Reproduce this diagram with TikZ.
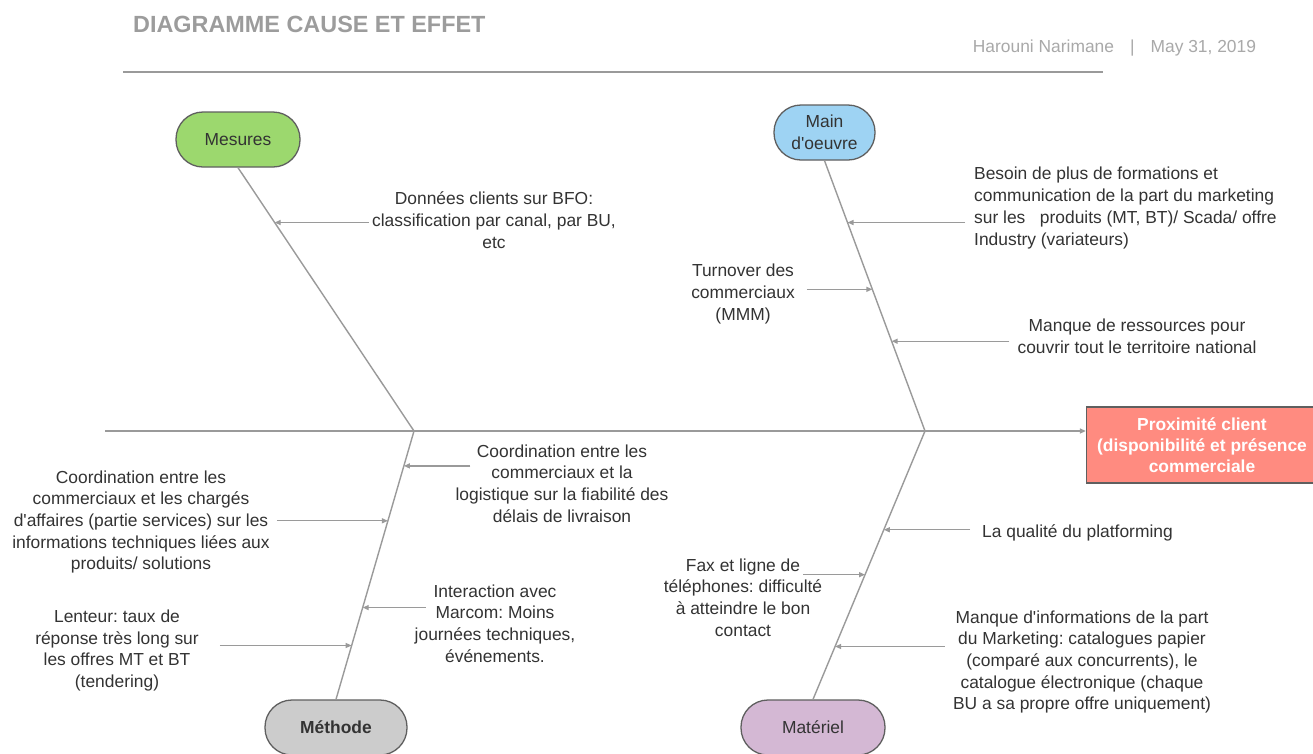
\documentclass[tikz,border=0pt]{standalone}
\usepackage{fontspec}
\setmainfont{Liberation Sans}[Ligatures=TeXOff]
\usetikzlibrary{arrows.meta,calc}
\frenchspacing

\definecolor{linegray}{HTML}{9A9A9A}
\definecolor{titlegray}{HTML}{9C9C9C}
\definecolor{metagray}{HTML}{A9A9A9}
\definecolor{textdark}{HTML}{333333}
\definecolor{pilledge}{HTML}{5F5F5F}
\definecolor{mesfill}{HTML}{9CD86E}
\definecolor{mdofill}{HTML}{9ED3F3}
\definecolor{methfill}{HTML}{CCCCCC}
\definecolor{matfill}{HTML}{D4B8D4}
\definecolor{effectfill}{HTML}{FF8B80}

\begin{document}
\begin{tikzpicture}[x=1pt,y=-1pt,
  bodyfont/.style={font=\fontsize{17.4}{21.7}\selectfont},
  txt/.style={bodyfont, text=textdark, align=center, inner sep=0pt},
  pill/.style={bodyfont, text=textdark, draw=pilledge, line width=1.3pt,
    rounded corners=27pt, minimum height=55pt, inner sep=0pt, align=center},
  bone/.style={draw=linegray, line width=1.4pt},
  cause/.style={draw=linegray, line width=1.3pt,
    -{Triangle[length=6pt,width=5pt]}}]

\clip (0,0) rectangle (1313,753);
\fill[white] (0,0) rectangle (1313,753);

% header
\node[anchor=base west, inner sep=0pt, text=titlegray,
  font=\fontsize{23.4}{28}\selectfont\bfseries] (title) at (133,32.7)
  {DIAGRAMME CAUSE ET EFFET};
\node[anchor=base west, inner sep=0pt, text=metagray, bodyfont] (meta) at (972.7,52.7)
  {Harouni Narimane\hspace{16pt}|\hspace{16pt}May 31, 2019};
\draw[draw=linegray, line width=1.5pt] (123,72) -- (1103,72);

% category heads
\node[pill, fill=mesfill, minimum width=124pt] (mes) at (238,139.5) {Mesures};
\node[pill, fill=mdofill, minimum width=101pt] (mdo) at (824.5,132.5) {Main\\d'oeuvre};
\node[pill, fill=methfill, minimum width=142pt, font=\fontsize{17.4}{21.7}\selectfont\bfseries] (meth) at (336,727.5) {Méthode};
\node[pill, fill=matfill, minimum width=144pt] (mat) at (813,727.5) {Matériel};

% effect
\node[draw=pilledge, line width=1.3pt, fill=effectfill, text=white,
  minimum width=231pt, minimum height=76pt, inner sep=0pt, align=center,
  font=\fontsize{17.4}{21}\selectfont\bfseries] (effect) at (1202,445)
  {Proximité client\\(disponibilité et présence\\commerciale};

% spine and bones
\coordinate (tail) at (105,431);
\coordinate (j1) at (414,431);
\coordinate (j2) at (925,431);
\draw[bone, -{Triangle[length=6pt,width=5pt]}] (tail) -- (tail -| effect.west);
\draw[bone] (mes.south) -- (j1) -- (meth.north);
\draw[bone] (mdo.south) -- (j2) -- (mat.north);

% points where the causes meet the bones
\coordinate (b1) at ($(mes.south)!0.2083!(j1)$);
\coordinate (b2) at ($(mdo.south)!0.2288!(j2)$);
\coordinate (b3) at ($(mdo.south)!0.4760!(j2)$);
\coordinate (b4) at ($(mdo.south)!0.6679!(j2)$);
\coordinate (b5) at ($(j1)!0.1301!(meth.north)$);
\coordinate (b6) at ($(j1)!0.3346!(meth.north)$);
\coordinate (b7) at ($(j1)!0.6580!(meth.north)$);
\coordinate (b8) at ($(j1)!0.7993!(meth.north)$);
\coordinate (b9) at ($(j2)!0.3680!(mat.north)$);
\coordinate (b10) at ($(j2)!0.5353!(mat.north)$);
\coordinate (b11) at ($(j2)!0.8030!(mat.north)$);

% cause texts
\node[txt] (t1) at (494,220) {Données clients sur BFO:\\classification par canal, par BU,\\etc};
\node[txt, anchor=west, align=left] (t2) at (974,208) {Besoin de plus de formations et\\communication de la part du marketing\\sur les \ \ produits (MT, BT)/ Scada/ offre\\Industry (variateurs)};
\node[txt] (t3) at (743,294) {Turnover des\\commerciaux\\(MMM)};
\node[txt] (t4) at (1137,336) {Manque de ressources pour\\couvrir tout le territoire national};
\node[txt] (t5) at (562,483.5) {Coordination entre les\\commerciaux et la\\logistique sur la fiabilité des\\délais de livraison};
\node[txt] (t6) at (141,522) {Coordination entre les\\commerciaux et les chargés\\d'affaires (partie services) sur les\\informations techniques liées aux\\produits/ solutions};
\node[txt] (t7) at (495,623.5) {Interaction avec\\Marcom: Moins\\journées techniques,\\événements.};
\node[txt] (t8) at (117,650.5) {Lenteur: taux de\\réponse très long sur\\les offres MT et BT\\(tendering)};
\node[txt, anchor=west] (t9) at (982,533) {La qualité du platforming};
\node[txt] (t10) at (743,597.5) {Fax et ligne de\\téléphones: difficulté\\à atteindre le bon\\contact};
\node[txt] (t11) at (1082,662) {Manque d'informations de la part\\du Marketing: catalogues papier\\(comparé aux concurrents), le\\catalogue électronique (chaque\\BU a sa propre offre uniquement)};

% cause arrows
\draw[cause] (b1 -| t1.west) ++(-3,0) -- (b1);
\draw[cause] (b2 -| t2.west) ++(-9,0) -- (b2);
\draw[cause] (b3 -| t3.east) ++(12,0) -- (b3);
\draw[cause] (b4 -| t4.west) ++(-8,0) -- (b4);
\draw[cause] (b5 -| t5.west) ++(15,0) -- (b5);
\draw[cause] (b6 -| t6.east) ++(7,0) -- (b6);
\draw[cause] (b7 -| t7.west) ++(11,0) -- (b7);
\draw[cause] (b8 -| t8.east) ++(21,0) -- (b8);
\draw[cause] (b9 -| t9.west) ++(-12,0) -- (b9);
\draw[cause] (b10 -| t10.east) ++(-19,0) -- (b10);
\draw[cause] (b11 -| t11.west) ++(-8,0) -- (b11);
\end{tikzpicture}
\end{document}
